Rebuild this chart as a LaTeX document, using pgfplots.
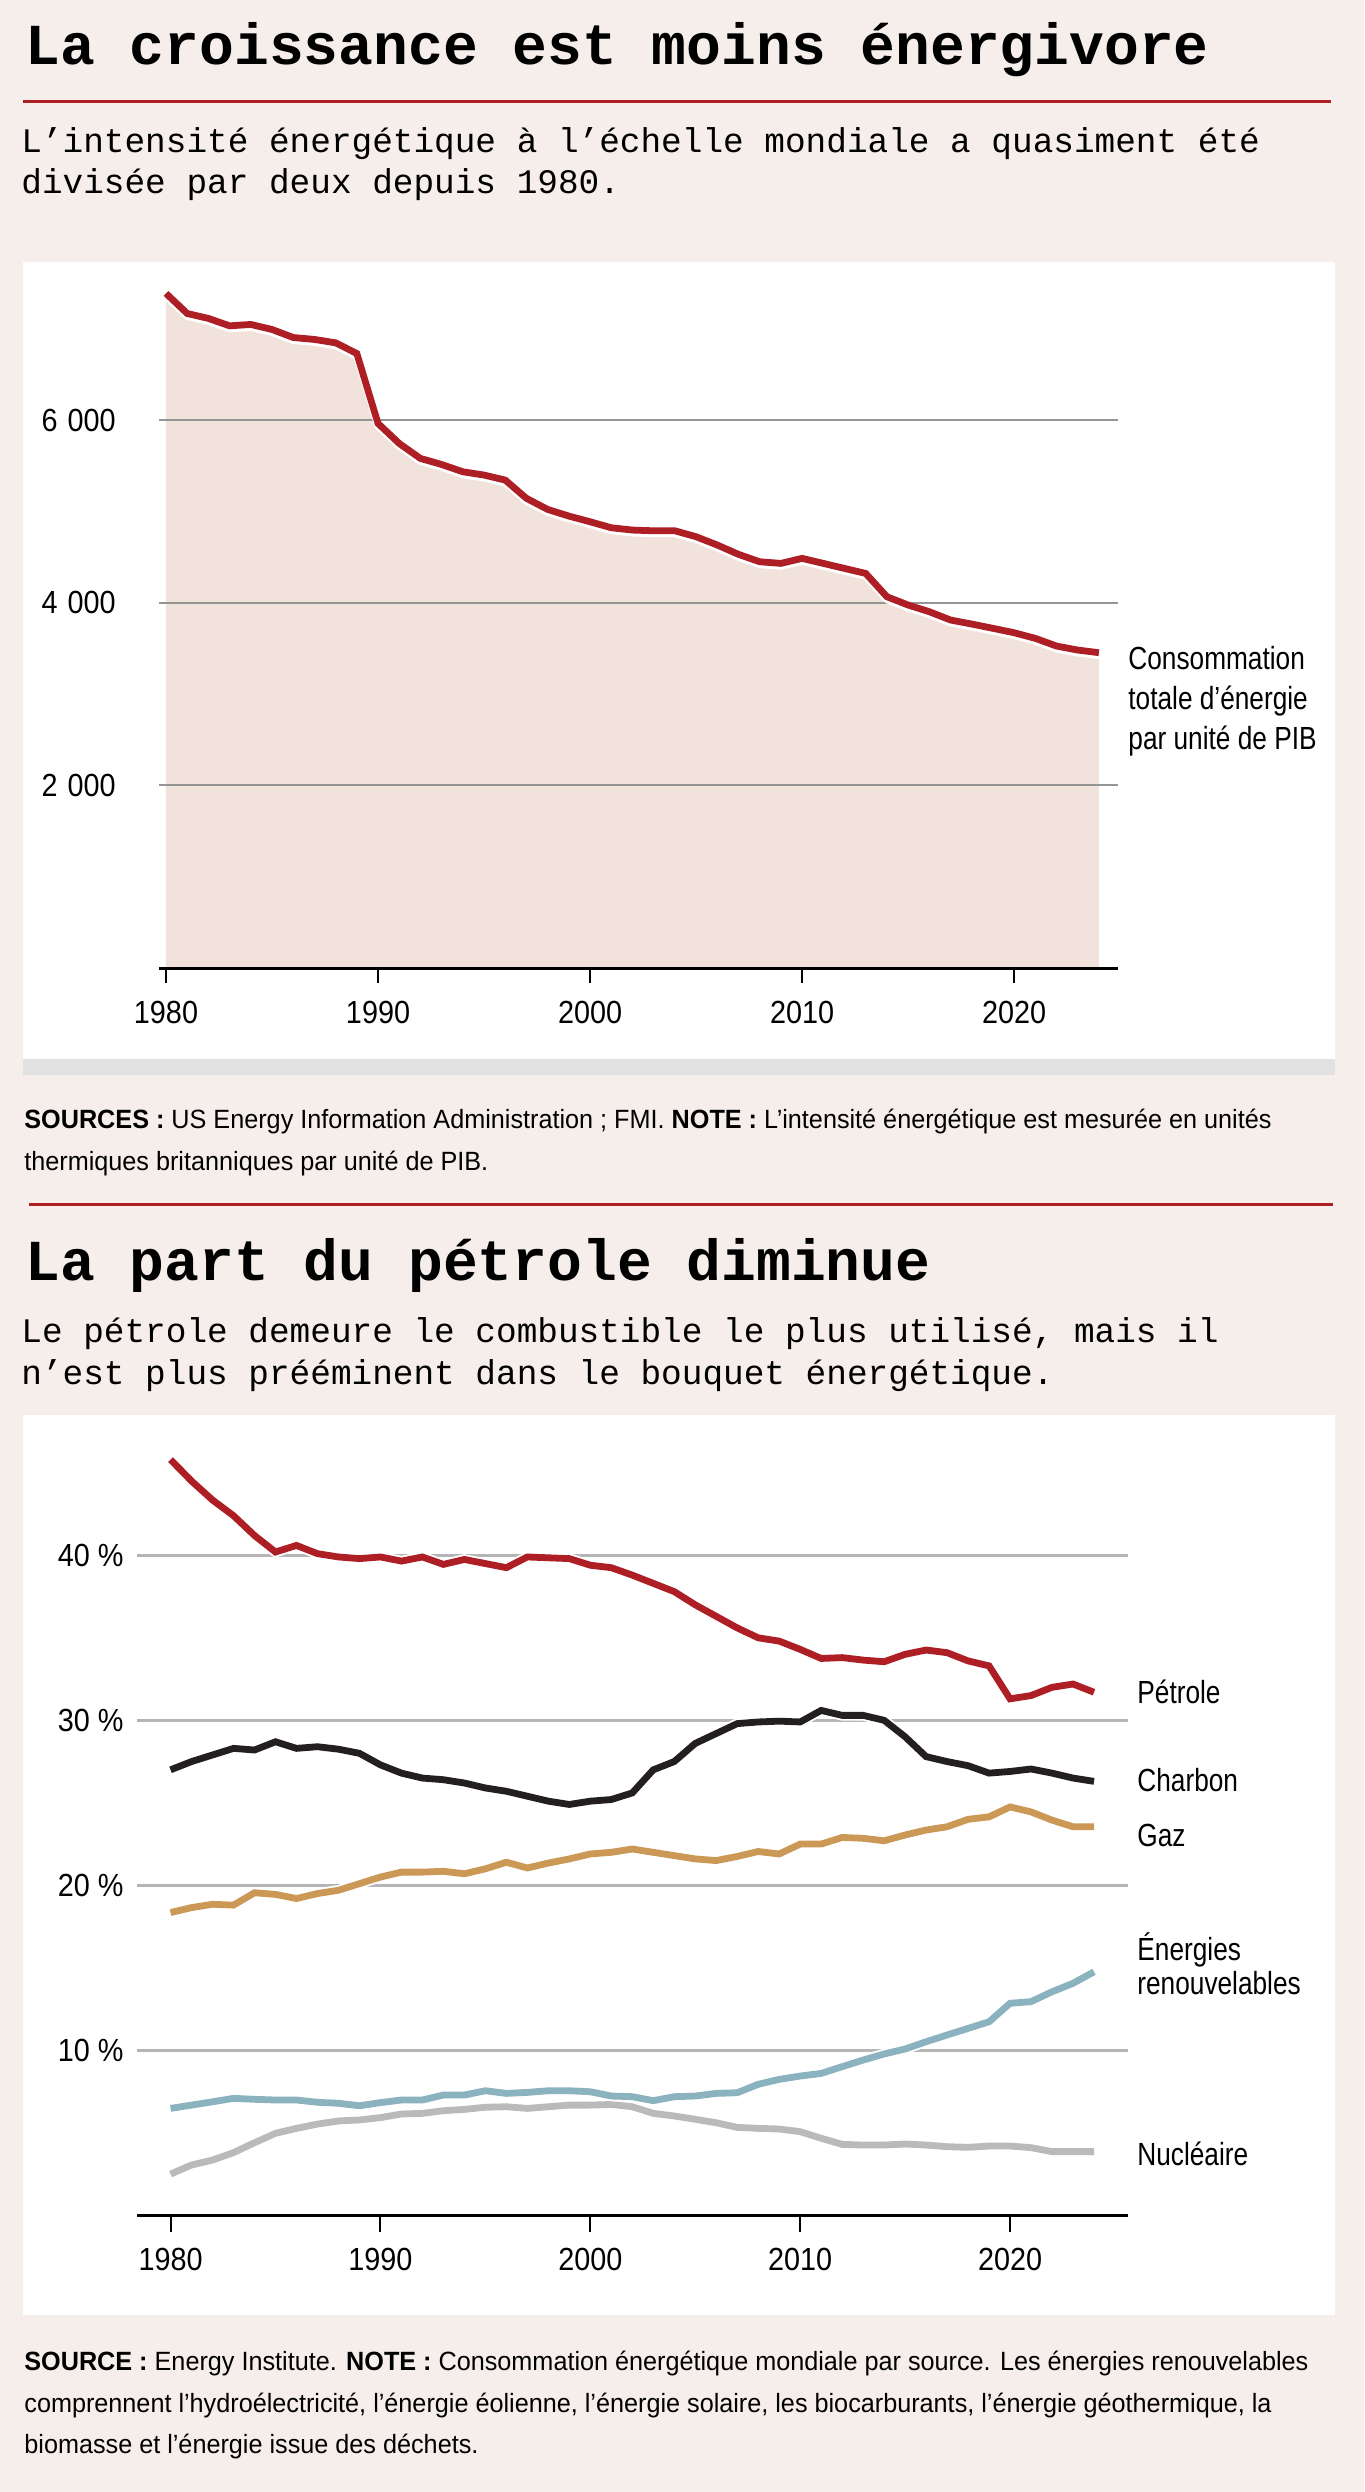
\documentclass[border=0pt]{standalone}
\usepackage{pgfplots}
\pgfplotsset{compat=1.18}
\usepackage{pgfplotstable}
\usepackage{fontspec}
\setmainfont{Liberation Sans}
\newfontfamily\monof{Liberation Mono}
\newfontfamily\labf{Liberation Sans}[FakeStretch=0.82]
\newfontfamily\tickf{Liberation Sans}[FakeStretch=0.9]
\newfontfamily\notef{Liberation Sans}[FakeStretch=0.955]

\definecolor{bg}{HTML}{F5EEEB}
\definecolor{rouge}{HTML}{AD1F25}
\definecolor{fillc}{HTML}{F1E2DC}
\definecolor{gridA}{HTML}{959595}
\definecolor{gridB}{HTML}{B5B5B5}
\definecolor{strip}{HTML}{E1E1E1}
\definecolor{charbon}{HTML}{231F20}
\definecolor{gaz}{HTML}{CB9856}
\definecolor{renouv}{HTML}{8BB2BF}
\definecolor{nucl}{HTML}{BABABA}

\pgfplotstableread{
year val
1980 7386
1981 7166
1982 7112
1983 7031
1984 7046
1985 6991
1986 6903
1987 6882
1988 6845
1989 6728
1990 5962
1991 5743
1992 5579
1993 5513
1994 5433
1995 5397
1996 5342
1997 5142
1998 5021
1999 4948
2000 4886
2001 4820
2002 4795
2003 4787
2004 4787
2005 4722
2006 4631
2007 4529
2008 4448
2009 4430
2010 4485
2011 4430
2012 4375
2013 4320
2014 4065
2015 3974
2016 3901
2017 3810
2018 3766
2019 3719
2020 3671
2021 3609
2022 3525
2023 3481
2024 3452
}\topdata

\pgfplotstableread{
year pet cha gaz ren nuc
1980 45.8 27.0 18.35 6.48 2.5
1981 44.5 27.5 18.65 6.68 3.05
1982 43.35 27.9 18.85 6.88 3.35
1983 42.4 28.3 18.8 7.09 3.8
1984 41.2 28.2 19.55 7.03 4.4
1985 40.2 28.7 19.45 6.99 4.97
1986 40.6 28.3 19.2 6.99 5.27
1987 40.1 28.4 19.5 6.85 5.53
1988 39.9 28.25 19.7 6.79 5.72
1989 39.8 28.0 20.1 6.64 5.78
1990 39.9 27.3 20.5 6.83 5.92
1991 39.65 26.8 20.8 6.99 6.14
1992 39.9 26.5 20.8 6.99 6.18
1993 39.45 26.4 20.85 7.29 6.34
1994 39.75 26.2 20.7 7.29 6.42
1995 39.5 25.9 21.0 7.55 6.55
1996 39.25 25.7 21.4 7.39 6.58
1997 39.9 25.4 21.05 7.45 6.48
1998 39.85 25.1 21.35 7.55 6.58
1999 39.8 24.9 21.6 7.55 6.68
2000 39.4 25.1 21.9 7.49 6.68
2001 39.25 25.2 22.0 7.23 6.72
2002 38.8 25.6 22.2 7.19 6.58
2003 38.3 27.0 22.0 6.95 6.18
2004 37.8 27.5 21.8 7.19 6.02
2005 37.0 28.6 21.6 7.23 5.82
2006 36.3 29.2 21.5 7.39 5.61
2007 35.6 29.8 21.75 7.43 5.33
2008 35.0 29.9 22.05 7.94 5.27
2009 34.8 29.95 21.9 8.24 5.23
2010 34.3 29.9 22.5 8.44 5.07
2011 33.75 30.6 22.5 8.6 4.67
2012 33.8 30.3 22.9 9.01 4.3
2013 33.65 30.3 22.85 9.41 4.26
2014 33.55 30.0 22.7 9.78 4.26
2015 34.0 29.0 23.05 10.08 4.32
2016 34.26 27.8 23.35 10.52 4.26
2017 34.1 27.5 23.55 10.93 4.16
2018 33.6 27.25 24.0 11.33 4.12
2019 33.3 26.8 24.15 11.73 4.2
2020 31.3 26.9 24.75 12.85 4.2
2021 31.5 27.05 24.45 12.95 4.1
2022 32.0 26.8 23.95 13.55 3.86
2023 32.2 26.5 23.55 14.06 3.86
2024 31.7 26.3 23.55 14.76 3.86
}\botdata

\begin{document}
\begin{tikzpicture}
\begin{scope}[x=0.5pt,y=-0.5pt]
\fill[bg] (0,0) rectangle (1364,2492);
\useasboundingbox (0,0) rectangle (1364,2492);
\fill[white] (23,262) rectangle (1335,1059);
\fill[strip] (23,1059) rectangle (1335,1075);
\fill[white] (23,1415) rectangle (1335,2315);
\draw[rouge, line width=1.5pt] (23,102) -- (1331,102);
\draw[rouge, line width=1.5pt] (29,1204) -- (1333,1204);
\node[anchor=base west, inner sep=0pt, font=\monof\bfseries\fontsize{29}{29}\selectfont] at (25,65) {La croissance est moins énergivore};
\node[anchor=base west, inner sep=0pt, font=\monof\fontsize{17.2}{20}\selectfont] at (21,153) {L’intensité énergétique à l’échelle mondiale a quasiment été};
\node[anchor=base west, inner sep=0pt, font=\monof\fontsize{17.2}{20}\selectfont] at (21,194) {divisée par deux depuis 1980.};
\node[anchor=base west, inner sep=0pt, font=\notef\fontsize{13.2}{15}\selectfont] at (24,1128) {\textbf{SOURCES :} US Energy Information Administration ; FMI. \textbf{NOTE :} L’intensité énergétique est mesurée en unités};
\node[anchor=base west, inner sep=0pt, font=\notef\fontsize{13.2}{15}\selectfont] at (24,1170) {thermiques britanniques par unité de PIB.};
\node[anchor=base west, inner sep=0pt, font=\monof\bfseries\fontsize{29}{29}\selectfont] at (25,1280) {La part du pétrole diminue};
\node[anchor=base west, inner sep=0pt, font=\monof\fontsize{17.2}{20}\selectfont] at (21,1342) {Le pétrole demeure le combustible le plus utilisé, mais il};
\node[anchor=base west, inner sep=0pt, font=\monof\fontsize{17.2}{20}\selectfont] at (21,1384) {n’est plus prééminent dans le bouquet énergétique.};
\node[anchor=base west, inner sep=0pt, font=\notef\fontsize{13.2}{15}\selectfont] at (24,2370) {\textbf{SOURCE :} Energy Institute. \textbf{NOTE :} Consommation énergétique mondiale par source. Les énergies renouvelables};
\node[anchor=base west, inner sep=0pt, font=\notef\fontsize{13.2}{15}\selectfont] at (24,2412) {comprennent l’hydroélectricité, l’énergie éolienne, l’énergie solaire, les biocarburants, l’énergie géothermique, la};
\node[anchor=base west, inner sep=0pt, font=\notef\fontsize{13.2}{15}\selectfont] at (24,2453) {biomasse et l’énergie issue des déchets.};
% right labels
\begin{scope}[every node/.style={anchor=base west, inner sep=0pt, font=\labf\fontsize{16}{16}\selectfont}]
\node at (1128,669) {Consommation};
\node at (1128,709) {totale d’énergie};
\node at (1128,749) {par unité de PIB};
\node at (1137,1703) {Pétrole};
\node at (1137,1791) {Charbon};
\node at (1137,1846) {Gaz};
\node at (1137,1960) {Énergies};
\node at (1137,1994) {renouvelables};
\node at (1137,2165) {Nucléaire};
\end{scope}
\end{scope}

% top chart: fill only
\begin{axis}[
 at={(79.5pt,-484pt)}, anchor=south west,
 width=479.5pt, height=342.5pt, scale only axis,
 xmin=1979.67, xmax=2024.9, ymin=0, ymax=7500,
 hide axis, clip=false,
]
\addplot[draw=none, fill=fillc] table[x=year,y=val] {\topdata} \closedcycle;
\end{axis}

% top chart: grid, axis, line
\begin{axis}[
 at={(79.5pt,-484pt)}, anchor=south west,
 width=479.5pt, height=342.5pt, scale only axis,
 xmin=1979.67, xmax=2024.9, ymin=0, ymax=7500,
 axis x line=bottom, axis y line=left,
 y axis line style={draw=none},
 x axis line style={-, line width=1.5pt, black},
 xtick={1980,1990,2000,2010,2020},
 xticklabels={1980,1990,2000,2010,2020},
 ytick={2000,4000,6000},
 yticklabels={2~\hspace{1pt}000,4~\hspace{1pt}000,6~\hspace{1pt}000},
 tick align=outside,
 xtick style={line width=1pt, black},
 major tick length=7.5pt,
 ytick style={draw=none},
 ymajorgrids, grid style={gridA, line width=1pt},
 /pgf/number format/assume math mode=true,
 ticklabel style={font=\tickf\fontsize{16}{16}\selectfont},
 xticklabel style={anchor=base, inner sep=0pt, yshift=-20.25pt},
 yticklabel style={anchor=east, inner sep=0pt, xshift=-14pt},
 clip=false,
]
\addplot[white, line width=3.4pt, yshift=-1.5pt] table[x=year,y=val] {\topdata};
\addplot[rouge, line width=3.4pt] table[x=year,y=val] {\topdata};
\end{axis}

\begin{axis}[
 at={(68.7pt,-1107.65pt)}, anchor=south west,
 width=495.3pt, height=387.75pt, scale only axis,
 xmin=1978.42, xmax=2025.62, ymin=0, ymax=47,
 axis x line=bottom, axis y line=left,
 y axis line style={draw=none},
 x axis line style={-, line width=1.5pt, black},
 xtick={1980,1990,2000,2010,2020},
 xticklabels={1980,1990,2000,2010,2020},
 ytick={10,20,30,40},
 yticklabels={10 \%,20 \%,30 \%,40 \%},
 tick align=outside,
 xtick style={line width=1pt, black},
 major tick length=8.5pt,
 ytick style={draw=none},
 ymajorgrids, grid style={gridB, line width=1.2pt},
 /pgf/number format/assume math mode=true,
 ticklabel style={font=\tickf\fontsize{16}{16}\selectfont},
 xticklabel style={anchor=base, inner sep=0pt, yshift=-19.25pt},
 yticklabel style={anchor=east, inner sep=0pt, xshift=1.8pt},
 clip=false,
]
\addplot[white, line width=5.2pt] table[x=year,y=nuc] {\botdata};
\addplot[nucl, line width=3.4pt] table[x=year,y=nuc] {\botdata};
\addplot[white, line width=5.2pt] table[x=year,y=ren] {\botdata};
\addplot[renouv, line width=3.4pt] table[x=year,y=ren] {\botdata};
\addplot[white, line width=5.2pt] table[x=year,y=gaz] {\botdata};
\addplot[gaz, line width=3.4pt] table[x=year,y=gaz] {\botdata};
\addplot[white, line width=5.2pt] table[x=year,y=cha] {\botdata};
\addplot[charbon, line width=3.4pt] table[x=year,y=cha] {\botdata};
\addplot[white, line width=5.2pt] table[x=year,y=pet] {\botdata};
\addplot[rouge, line width=3.4pt] table[x=year,y=pet] {\botdata};
\end{axis}
\end{tikzpicture}
\end{document}
